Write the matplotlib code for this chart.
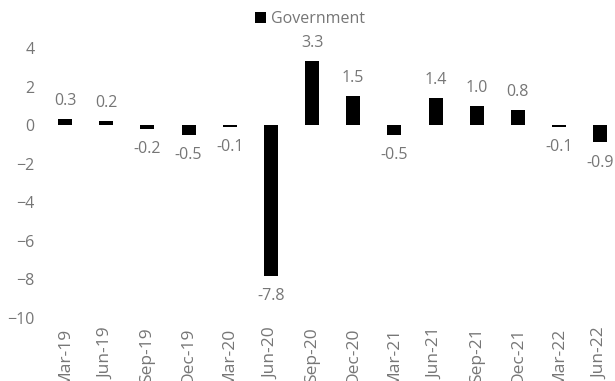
import matplotlib.pyplot as plt
import numpy as np

plt.rcParams['font.family'] = ['Open Sans', 'DejaVu Sans']

quarters = ["Mar-19", "Jun-19", "Sep-19", "Dec-19", "Mar-20", "Jun-20", "Sep-20",
            "Dec-20", "Mar-21", "Jun-21", "Sep-21", "Dec-21", "Mar-22", "Jun-22"]
government = [0.3, 0.2, -0.2, -0.5, -0.1, -7.8, 3.3, 1.5, -0.5, 1.4, 1.0, 0.8, -0.1, -0.9]

grey = "#767676"

fig = plt.figure(figsize=(6.15, 3.81), dpi=100)
ax = fig.add_axes([40 / 615, 63 / 381, 575 / 615, 308.6 / 381])

x = np.arange(len(quarters))
bars = ax.bar(x, government, width=0.34, color="black", label="Government")

# value labels above positive bars, below negative ones
for xi, v in zip(x, government):
    off = 13 if v >= 0 else -14.5
    ax.annotate(f"{v:.1f}", (xi, v), xytext=(0, off), textcoords="offset points",
                ha="center", va="center", fontsize=11.5, color=grey,
                annotation_clip=False)

ax.set_xlim(-0.61, 13.36)
ax.set_ylim(-10, 6)
ax.set_yticks(np.arange(-10, 5, 2))
ax.set_xticks(x)
ax.set_xticklabels(quarters, rotation=90, va="top")
ax.tick_params(length=0, labelsize=11.5, labelcolor=grey)
ax.tick_params(axis="x", pad=7, labelsize=12.5)
ax.tick_params(axis="y", pad=4)
for s in ax.spines.values():
    s.set_visible(False)

fig.legend(handles=[bars], labels=["Government"], loc="center",
           bbox_to_anchor=(0.504, 0.95), frameon=False, fontsize=11.5,
           labelcolor=grey, handlelength=0.7, handleheight=0.7,
           handletextpad=0.3)

fig.savefig("out.png", dpi=100)
